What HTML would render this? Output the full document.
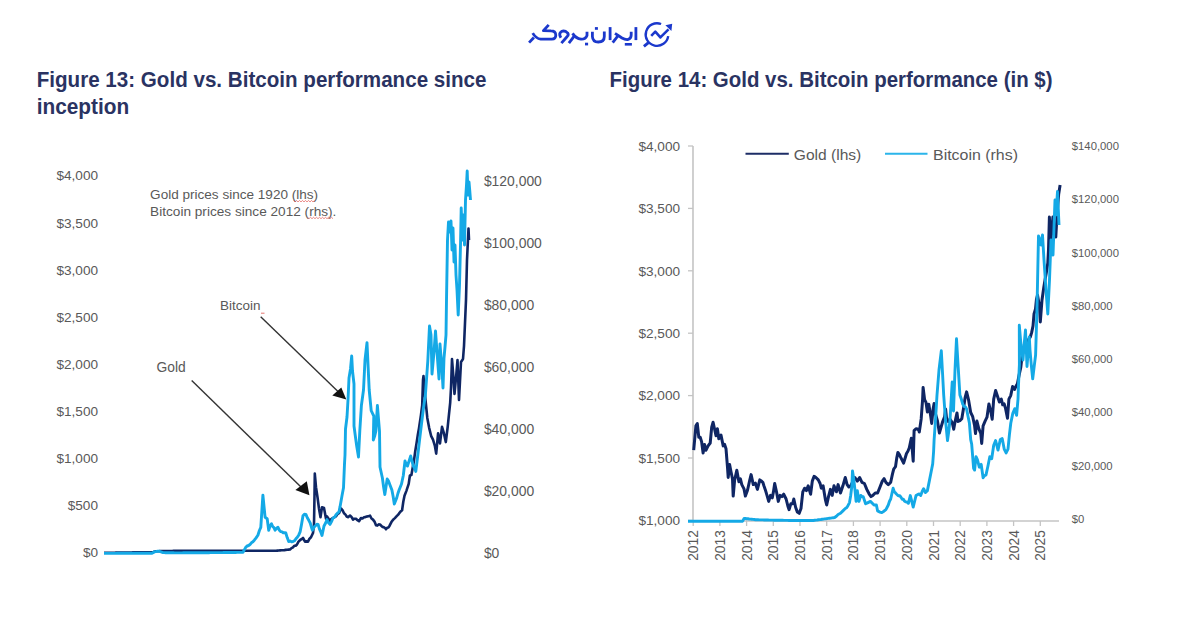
<!DOCTYPE html>
<html><head><meta charset="utf-8"><style>
html,body{margin:0;padding:0;background:#fff;}
body{width:1200px;height:628px;overflow:hidden;}
svg{display:block;font-family:"Liberation Sans",sans-serif;}
</style></head><body>
<svg width="1200" height="628" viewBox="0 0 1200 628">
<rect width="1200" height="628" fill="#fff"/>
<text x="36.7" y="87" font-size="21.2" fill="#2a3362" font-weight="700" text-anchor="start" textLength="449.8" lengthAdjust="spacingAndGlyphs">Figure 13: Gold vs. Bitcoin performance since</text>
<text x="36.7" y="113.5" font-size="21.2" fill="#2a3362" font-weight="700" text-anchor="start" textLength="92.5" lengthAdjust="spacingAndGlyphs">inception</text>
<text x="609.5" y="87" font-size="21.2" fill="#2a3362" font-weight="700" text-anchor="start" textLength="443" lengthAdjust="spacingAndGlyphs">Figure 14: Gold vs. Bitcoin performance (in $)</text>
<text x="98" y="180.4" font-size="13.6" fill="#595959" font-weight="400" text-anchor="end">$4,000</text>
<text x="98" y="227.5" font-size="13.6" fill="#595959" font-weight="400" text-anchor="end">$3,500</text>
<text x="98" y="274.6" font-size="13.6" fill="#595959" font-weight="400" text-anchor="end">$3,000</text>
<text x="98" y="321.70000000000005" font-size="13.6" fill="#595959" font-weight="400" text-anchor="end">$2,500</text>
<text x="98" y="368.8" font-size="13.6" fill="#595959" font-weight="400" text-anchor="end">$2,000</text>
<text x="98" y="415.9" font-size="13.6" fill="#595959" font-weight="400" text-anchor="end">$1,500</text>
<text x="98" y="463.0" font-size="13.6" fill="#595959" font-weight="400" text-anchor="end">$1,000</text>
<text x="98" y="510.1" font-size="13.6" fill="#595959" font-weight="400" text-anchor="end">$500</text>
<text x="98" y="557.2" font-size="13.6" fill="#595959" font-weight="400" text-anchor="end">$0</text>
<text x="483.9" y="185.5" font-size="13.9" fill="#595959" font-weight="400" text-anchor="start">$120,000</text>
<text x="483.9" y="247.5" font-size="13.9" fill="#595959" font-weight="400" text-anchor="start">$100,000</text>
<text x="483.9" y="309.5" font-size="13.9" fill="#595959" font-weight="400" text-anchor="start">$80,000</text>
<text x="483.9" y="371.5" font-size="13.9" fill="#595959" font-weight="400" text-anchor="start">$60,000</text>
<text x="483.9" y="433.5" font-size="13.9" fill="#595959" font-weight="400" text-anchor="start">$40,000</text>
<text x="483.9" y="495.5" font-size="13.9" fill="#595959" font-weight="400" text-anchor="start">$20,000</text>
<text x="483.9" y="557.5" font-size="13.9" fill="#595959" font-weight="400" text-anchor="start">$0</text>
<text x="150.1" y="198.9" font-size="13.6" fill="#595959" font-weight="400" text-anchor="start" textLength="168" lengthAdjust="spacingAndGlyphs">Gold prices since 1920 (lhs)</text>
<text x="150.1" y="215.8" font-size="13.6" fill="#595959" font-weight="400" text-anchor="start" textLength="186.3" lengthAdjust="spacingAndGlyphs">Bitcoin prices since 2012 (rhs).</text>
<text x="219.9" y="309.9" font-size="13.6" fill="#595959" font-weight="400" text-anchor="start" textLength="40.5" lengthAdjust="spacingAndGlyphs">Bitcoin</text>
<text x="156.6" y="372.4" font-size="13.8" fill="#595959" font-weight="400" text-anchor="start" textLength="29.2" lengthAdjust="spacingAndGlyphs">Gold</text>
<polyline points="293.5,200.5 295.0,201.9 296.5,200.5 298.0,201.9 299.5,200.5 301.0,201.9 302.5,200.5 304.0,201.9 305.5,200.5 307.0,201.9 308.5,200.5 310.0,201.9 311.5,200.5 313.0,201.9 314.5,200.5" fill="none" stroke="#e0504a" stroke-width="0.9" opacity="0.75"/>
<polyline points="307.5,217.3 309.0,218.7 310.5,217.3 312.0,218.7 313.5,217.3 315.0,218.7 316.5,217.3 318.0,218.7 319.5,217.3 321.0,218.7 322.5,217.3 324.0,218.7 325.5,217.3 327.0,218.7 328.5,217.3 330.0,218.7 331.5,217.3 333.0,218.7" fill="none" stroke="#e0504a" stroke-width="0.9" opacity="0.75"/>
<line x1="261" y1="313.2" x2="264.5" y2="313.2" stroke="#e0504a" stroke-width="1" opacity="0.8"/>
<line x1="260.7" y1="316.8" x2="338" y2="391.5" stroke="#333" stroke-width="1.4"/>
<polygon points="346.3,399.4 332.3,395.4 341.3,387.5" fill="#111"/>
<line x1="191.7" y1="380.6" x2="301" y2="487" stroke="#333" stroke-width="1.4"/>
<polygon points="309.4,495.2 295.4,490.1 306.8,481.2" fill="#111"/>
<polyline points="104.0,552.8 105.2,552.8 106.4,552.8 107.6,552.8 108.8,552.7 110.0,552.7 111.2,552.7 112.4,552.7 113.6,552.7 114.8,552.7 116.0,552.6 117.2,552.6 118.4,552.6 119.6,552.6 120.8,552.6 122.0,552.6 123.2,552.6 124.4,552.5 125.6,552.5 126.8,552.5 128.0,552.5 129.2,552.5 130.4,552.5 131.6,552.5 132.8,552.4 134.0,552.4 135.2,552.4 136.4,552.4 137.6,552.4 138.8,552.4 140.0,552.4 141.2,552.3 142.4,552.3 143.6,552.3 144.8,552.3 146.0,552.3 147.2,552.3 148.4,552.2 149.6,552.2 150.8,552.2 152.0,552.2 153.3,551.9 154.7,551.5 156.0,551.2 157.2,551.2 158.5,551.2 159.8,551.1 161.0,551.1 162.2,551.1 163.5,551.1 164.8,551.1 166.0,551.0 167.2,551.0 168.5,551.0 169.8,551.0 171.0,551.0 172.2,551.0 173.5,550.9 174.8,550.9 176.0,550.9 177.2,550.9 178.4,550.9 179.6,550.9 180.8,550.9 182.0,550.9 183.2,550.9 184.4,550.9 185.6,550.9 186.8,550.9 188.0,550.9 189.3,550.9 190.5,550.9 191.7,550.9 192.9,550.9 194.1,550.9 195.3,550.9 196.5,550.9 197.7,550.9 198.9,550.9 200.1,550.9 201.3,550.8 202.5,550.8 203.7,550.8 204.9,550.8 206.1,550.8 207.3,550.8 208.5,550.8 209.7,550.8 210.9,550.8 212.1,550.8 213.3,550.8 214.6,550.8 215.8,550.8 217.0,550.8 218.2,550.8 219.4,550.8 220.6,550.8 221.8,550.8 223.0,550.8 224.2,550.8 225.4,550.8 226.6,550.8 227.8,550.8 229.0,550.8 230.2,550.8 231.4,550.8 232.6,550.8 233.8,550.8 235.0,550.8 236.2,550.8 237.4,550.8 238.7,550.8 239.9,550.8 241.1,550.8 242.3,550.8 243.5,550.8 244.7,550.8 245.9,550.8 247.1,550.8 248.3,550.8 249.5,550.8 250.7,550.8 251.9,550.7 253.1,550.7 254.3,550.7 255.5,550.7 256.7,550.7 257.9,550.7 259.1,550.7 260.3,550.7 261.5,550.7 262.7,550.7 264.0,550.7 265.2,550.7 266.4,550.7 267.6,550.7 268.8,550.7 270.0,550.7 271.2,550.7 272.4,550.7 273.6,550.7 274.8,550.7 276.0,550.7 277.4,550.6 278.8,550.5 280.2,550.4 281.6,550.3 283.0,550.2 284.4,550.1 285.8,549.9 287.2,549.8 288.6,549.6 290.0,549.5 291.5,548.1 293.0,547.4 294.3,545.8 295.7,545.7 297.0,544.5 298.5,541.6 300.0,540.2 301.5,539.2 303.0,538.0 305.0,541.6 306.5,541.4 308.0,541.6 309.5,538.7 311.0,537.3 313.0,533.0 314.0,524.4 314.5,495.8 314.8,473.6 316.0,487.2 317.5,497.2 319.0,508.7 320.5,517.3 322.0,507.2 324.0,508.0 326.0,518.7 327.0,516.4 328.5,518.8 330.0,521.2 331.5,518.8 333.0,518.0 334.5,517.1 336.0,516.4 337.5,514.0 339.0,513.2 341.0,508.5 342.5,510.1 344.0,513.2 345.3,514.4 346.7,516.5 348.0,517.2 350.0,515.6 351.5,516.9 353.0,519.6 354.5,518.7 356.0,518.8 357.5,520.2 359.0,521.2 361.0,518.0 362.5,518.4 364.0,517.2 365.3,517.1 366.7,516.5 368.0,516.4 370.0,515.6 371.5,518.5 373.0,519.6 374.5,521.6 376.0,525.2 377.3,525.6 378.7,524.4 380.0,524.5 382.4,526.9 383.6,527.1 384.8,527.8 386.0,529.3 387.2,527.8 388.4,527.5 389.6,525.7 391.4,522.1 393.1,519.7 394.9,518.1 396.7,516.2 398.2,514.7 399.7,512.6 400.9,511.2 402.1,510.2 403.3,501.8 404.5,495.8 406.3,491.1 408.7,483.9 409.9,475.5 411.4,475.0 412.6,468.2 413.9,461.2 415.2,451.5 416.5,443.4 417.8,435.0 419.0,428.1 420.9,415.4 422.2,405.2 423.0,380.0 423.5,376.0 424.5,390.0 425.5,400.0 427.3,417.9 429.2,428.1 431.1,435.8 433.0,439.6 434.9,446.0 436.2,453.6 438.1,433.2 440.0,443.4 442.0,426.8 443.9,433.2 445.8,442.1 447.7,426.8 449.0,414.1 450.2,402.6 451.0,388.0 452.0,359.0 453.5,378.0 454.5,394.0 456.0,378.0 457.5,360.0 459.0,400.0 460.0,381.0 461.0,362.0 463.0,359.0 464.0,346.0 466.0,300.0 467.0,260.0 468.5,228.5 469.0,240.0" fill="none" stroke="#0f2664" stroke-width="2.6" stroke-linejoin="round"/>
<polyline points="104.0,553.4 105.2,553.4 106.4,553.4 107.6,553.4 108.8,553.4 110.0,553.4 111.2,553.4 112.4,553.4 113.6,553.4 114.8,553.4 116.0,553.4 117.2,553.3 118.4,553.3 119.6,553.3 120.8,553.3 122.0,553.3 123.2,553.3 124.4,553.3 125.6,553.3 126.8,553.3 128.0,553.3 129.2,553.3 130.4,553.3 131.6,553.3 132.8,553.3 134.0,553.3 135.2,553.3 136.4,553.3 137.6,553.3 138.8,553.3 140.0,553.2 141.2,553.2 142.4,553.2 143.6,553.2 144.8,553.2 146.0,553.2 147.2,553.2 148.4,553.2 149.6,553.2 150.8,553.2 152.0,553.2 153.5,552.4 155.0,551.6 156.3,551.5 157.7,551.3 159.0,551.2 160.3,551.7 161.7,552.1 163.0,552.6 164.3,552.6 165.6,552.7 166.9,552.7 168.2,552.7 169.5,552.8 170.8,552.8 172.1,552.8 173.4,552.8 174.7,552.9 176.0,552.9 177.2,552.9 178.4,552.9 179.7,552.9 180.9,552.9 182.1,552.9 183.3,552.8 184.5,552.8 185.7,552.8 187.0,552.8 188.2,552.8 189.4,552.8 190.6,552.8 191.8,552.8 193.1,552.8 194.3,552.8 195.5,552.8 196.7,552.7 197.9,552.7 199.1,552.7 200.4,552.7 201.6,552.7 202.8,552.7 204.0,552.7 205.2,552.7 206.5,552.7 207.7,552.7 208.9,552.7 210.1,552.6 211.3,552.6 212.5,552.6 213.8,552.6 215.0,552.6 216.2,552.6 217.4,552.6 218.6,552.6 219.9,552.6 221.1,552.6 222.3,552.6 223.5,552.5 224.7,552.5 225.9,552.5 227.2,552.5 228.4,552.5 229.6,552.5 230.8,552.5 232.0,552.5 233.3,552.5 234.5,552.5 235.7,552.5 236.9,552.4 238.1,552.4 239.3,552.4 240.6,552.4 241.8,552.4 243.0,552.4 244.3,549.9 245.7,547.4 247.1,546.0 248.6,545.5 250.0,544.5 251.4,542.8 252.9,541.8 254.3,540.2 256.1,537.9 257.9,535.2 259.4,530.5 260.8,527.3 262.9,495.1 265.1,517.3 267.2,518.7 268.7,530.2 270.1,526.1 271.5,523.7 272.7,526.5 273.9,527.6 275.1,530.2 276.6,528.3 278.0,527.3 279.4,530.3 280.8,531.6 282.1,531.9 283.3,532.9 284.6,532.6 285.8,533.0 287.2,537.6 288.7,541.6 290.1,541.0 291.6,541.8 293.0,541.6 294.4,540.8 295.9,538.8 297.3,537.3 298.8,534.9 300.2,531.6 301.6,524.0 303.0,515.8 304.4,514.3 305.9,514.4 307.3,517.7 308.8,520.3 310.2,523.0 312.3,530.2 314.5,526.6 315.7,525.5 316.9,524.3 318.1,524.4 319.4,528.8 320.7,531.8 322.0,535.5 324.0,526.0 325.5,523.2 327.0,519.6 328.5,522.7 330.0,524.4 331.5,521.6 333.0,518.0 334.5,517.2 336.0,514.8 337.5,513.1 339.0,511.7 340.0,506.9 342.0,495.7 343.5,487.8 344.5,463.9 345.0,455.0 345.5,429.0 347.0,417.0 348.0,400.0 349.0,378.0 350.5,369.0 351.7,356.0 352.5,371.0 354.0,384.0 354.0,426.0 355.4,436.5 356.7,446.0 358.5,457.0 359.8,431.0 361.4,405.5 363.5,390.0 365.0,360.0 367.0,342.6 369.2,390.0 371.2,410.7 372.5,413.3 373.8,416.0 373.3,440.0 374.6,436.3 375.9,431.0 377.4,405.5 379.5,431.0 380.0,467.0 382.4,478.0 383.6,487.0 384.8,494.6 387.2,479.0 388.4,480.8 389.6,484.0 391.9,490.0 393.1,496.3 394.3,504.0 396.7,498.0 397.9,493.5 399.1,490.0 401.5,484.0 403.3,475.5 405.0,461.0 406.2,464.3 407.5,466.0 409.1,460.9 410.7,456.0 412.0,461.2 413.3,466.0 414.6,468.3 415.8,471.4 417.7,456.0 419.6,439.6 421.6,423.0 423.5,407.7 425.4,395.0 426.6,378.0 427.8,361.0 429.5,326.0 431.0,335.0 432.0,374.0 434.0,352.0 435.5,331.0 437.0,352.0 439.0,379.0 440.0,344.0 442.0,370.0 443.0,388.0 444.0,358.0 445.0,347.0 446.0,335.0 446.5,300.0 447.5,240.0 448.5,222.0 450.0,232.0 451.0,221.0 452.0,250.0 453.0,228.0 454.0,262.0 455.0,245.0 456.0,275.0 457.0,290.0 458.2,315.0 459.5,285.0 460.5,245.0 461.2,208.0 462.5,240.0 463.5,215.0 464.5,245.0 465.5,200.0 466.5,185.0 467.2,171.0 468.0,195.0 469.0,182.0 469.7,190.0 470.5,200.0" fill="none" stroke="#14a9e6" stroke-width="2.9" stroke-linejoin="round"/>
<line x1="693" y1="146" x2="693" y2="521" stroke="#c4c4c4" stroke-width="1.6"/>
<line x1="693" y1="521" x2="1059" y2="521" stroke="#c4c4c4" stroke-width="1.6"/>
<line x1="688" y1="146.0" x2="693" y2="146.0" stroke="#c4c4c4" stroke-width="1.3"/>
<line x1="688" y1="208.4" x2="693" y2="208.4" stroke="#c4c4c4" stroke-width="1.3"/>
<line x1="688" y1="270.8" x2="693" y2="270.8" stroke="#c4c4c4" stroke-width="1.3"/>
<line x1="688" y1="333.2" x2="693" y2="333.2" stroke="#c4c4c4" stroke-width="1.3"/>
<line x1="688" y1="395.6" x2="693" y2="395.6" stroke="#c4c4c4" stroke-width="1.3"/>
<line x1="688" y1="458.0" x2="693" y2="458.0" stroke="#c4c4c4" stroke-width="1.3"/>
<line x1="688" y1="520.4" x2="693" y2="520.4" stroke="#c4c4c4" stroke-width="1.3"/>
<line x1="693.2" y1="521" x2="693.2" y2="526" stroke="#c4c4c4" stroke-width="1.3"/>
<line x1="719.9" y1="521" x2="719.9" y2="526" stroke="#c4c4c4" stroke-width="1.3"/>
<line x1="746.6" y1="521" x2="746.6" y2="526" stroke="#c4c4c4" stroke-width="1.3"/>
<line x1="773.3" y1="521" x2="773.3" y2="526" stroke="#c4c4c4" stroke-width="1.3"/>
<line x1="800.0" y1="521" x2="800.0" y2="526" stroke="#c4c4c4" stroke-width="1.3"/>
<line x1="826.7" y1="521" x2="826.7" y2="526" stroke="#c4c4c4" stroke-width="1.3"/>
<line x1="853.4" y1="521" x2="853.4" y2="526" stroke="#c4c4c4" stroke-width="1.3"/>
<line x1="880.1" y1="521" x2="880.1" y2="526" stroke="#c4c4c4" stroke-width="1.3"/>
<line x1="906.8" y1="521" x2="906.8" y2="526" stroke="#c4c4c4" stroke-width="1.3"/>
<line x1="933.5" y1="521" x2="933.5" y2="526" stroke="#c4c4c4" stroke-width="1.3"/>
<line x1="960.2" y1="521" x2="960.2" y2="526" stroke="#c4c4c4" stroke-width="1.3"/>
<line x1="986.9" y1="521" x2="986.9" y2="526" stroke="#c4c4c4" stroke-width="1.3"/>
<line x1="1013.6" y1="521" x2="1013.6" y2="526" stroke="#c4c4c4" stroke-width="1.3"/>
<line x1="1040.3" y1="521" x2="1040.3" y2="526" stroke="#c4c4c4" stroke-width="1.3"/>
<text x="680" y="150.7" font-size="13.6" fill="#595959" font-weight="400" text-anchor="end">$4,000</text>
<text x="680" y="213.1" font-size="13.6" fill="#595959" font-weight="400" text-anchor="end">$3,500</text>
<text x="680" y="275.5" font-size="13.6" fill="#595959" font-weight="400" text-anchor="end">$3,000</text>
<text x="680" y="337.9" font-size="13.6" fill="#595959" font-weight="400" text-anchor="end">$2,500</text>
<text x="680" y="400.29999999999995" font-size="13.6" fill="#595959" font-weight="400" text-anchor="end">$2,000</text>
<text x="680" y="462.7" font-size="13.6" fill="#595959" font-weight="400" text-anchor="end">$1,500</text>
<text x="680" y="525.0999999999999" font-size="13.6" fill="#595959" font-weight="400" text-anchor="end">$1,000</text>
<text x="1071.8" y="149.9" font-size="11.3" fill="#595959" font-weight="400" text-anchor="start">$140,000</text>
<text x="1071.8" y="203.2" font-size="11.3" fill="#595959" font-weight="400" text-anchor="start">$120,000</text>
<text x="1071.8" y="256.5" font-size="11.3" fill="#595959" font-weight="400" text-anchor="start">$100,000</text>
<text x="1071.8" y="309.79999999999995" font-size="11.3" fill="#595959" font-weight="400" text-anchor="start">$80,000</text>
<text x="1071.8" y="363.1" font-size="11.3" fill="#595959" font-weight="400" text-anchor="start">$60,000</text>
<text x="1071.8" y="416.4" font-size="11.3" fill="#595959" font-weight="400" text-anchor="start">$40,000</text>
<text x="1071.8" y="469.69999999999993" font-size="11.3" fill="#595959" font-weight="400" text-anchor="start">$20,000</text>
<text x="1071.8" y="523.0" font-size="11.3" fill="#595959" font-weight="400" text-anchor="start">$0</text>
<text x="0" y="0" font-size="13.8" fill="#595959" text-anchor="middle" transform="translate(698.2,545.5) rotate(-90)">2012</text>
<text x="0" y="0" font-size="13.8" fill="#595959" text-anchor="middle" transform="translate(724.9,545.5) rotate(-90)">2013</text>
<text x="0" y="0" font-size="13.8" fill="#595959" text-anchor="middle" transform="translate(751.6,545.5) rotate(-90)">2014</text>
<text x="0" y="0" font-size="13.8" fill="#595959" text-anchor="middle" transform="translate(778.3,545.5) rotate(-90)">2015</text>
<text x="0" y="0" font-size="13.8" fill="#595959" text-anchor="middle" transform="translate(805.0,545.5) rotate(-90)">2016</text>
<text x="0" y="0" font-size="13.8" fill="#595959" text-anchor="middle" transform="translate(831.7,545.5) rotate(-90)">2017</text>
<text x="0" y="0" font-size="13.8" fill="#595959" text-anchor="middle" transform="translate(858.4,545.5) rotate(-90)">2018</text>
<text x="0" y="0" font-size="13.8" fill="#595959" text-anchor="middle" transform="translate(885.1,545.5) rotate(-90)">2019</text>
<text x="0" y="0" font-size="13.8" fill="#595959" text-anchor="middle" transform="translate(911.8,545.5) rotate(-90)">2020</text>
<text x="0" y="0" font-size="13.8" fill="#595959" text-anchor="middle" transform="translate(938.5,545.5) rotate(-90)">2021</text>
<text x="0" y="0" font-size="13.8" fill="#595959" text-anchor="middle" transform="translate(965.2,545.5) rotate(-90)">2022</text>
<text x="0" y="0" font-size="13.8" fill="#595959" text-anchor="middle" transform="translate(991.9,545.5) rotate(-90)">2023</text>
<text x="0" y="0" font-size="13.8" fill="#595959" text-anchor="middle" transform="translate(1018.6,545.5) rotate(-90)">2024</text>
<text x="0" y="0" font-size="13.8" fill="#595959" text-anchor="middle" transform="translate(1045.3,545.5) rotate(-90)">2025</text>
<line x1="745.5" y1="153.8" x2="788.8" y2="153.8" stroke="#1d2d66" stroke-width="2.0"/>
<text x="793.8" y="160" font-size="15.5" fill="#595959" font-weight="400" text-anchor="start" textLength="67.5" lengthAdjust="spacingAndGlyphs">Gold (lhs)</text>
<line x1="885" y1="153.8" x2="927.5" y2="153.8" stroke="#2bb5ea" stroke-width="2.0"/>
<text x="933" y="160" font-size="15.5" fill="#595959" font-weight="400" text-anchor="start" textLength="85" lengthAdjust="spacingAndGlyphs">Bitcoin (rhs)</text>
<polyline points="693.7,450.2 695.9,425.8 697.3,423.6 698.8,437.3 700.2,437.3 701.6,441.6 703.1,453.0 704.5,444.4 705.9,450.2 708.1,445.9 710.2,443.0 711.7,427.2 713.1,422.2 714.5,428.7 716.0,435.8 717.4,428.7 718.8,438.7 721.0,435.1 723.2,445.9 724.6,444.4 726.0,448.7 727.5,467.4 728.2,477.4 729.6,464.5 731.0,471.7 732.5,478.9 733.2,496.1 734.6,480.3 736.8,470.3 738.9,481.7 740.4,478.9 741.8,484.6 744.0,488.9 745.4,496.1 747.5,490.3 749.7,480.3 751.1,474.6 753.3,484.6 755.4,483.2 757.4,489.4 759.8,479.9 761.3,481.0 762.8,482.3 764.0,486.0 765.2,489.4 767.0,495.4 768.7,501.4 770.5,495.4 772.3,497.8 773.5,491.4 774.7,483.5 776.5,491.8 778.3,501.4 780.1,495.4 781.9,496.6 783.7,494.2 786.1,499.0 787.9,506.2 789.1,509.7 790.8,503.8 792.6,503.8 793.8,499.0 795.6,507.3 797.4,512.1 799.2,513.3 801.0,508.5 802.8,491.8 804.6,488.2 806.4,490.6 808.2,485.8 810.6,494.2 812.3,481.1 814.1,476.3 815.9,477.5 818.3,479.9 820.1,483.5 821.3,488.2 823.1,485.8 825.5,500.2 826.7,505.0 828.5,496.6 830.4,489.4 832.2,495.4 834.0,485.8 836.4,491.8 838.1,484.6 840.5,493.0 842.9,485.8 845.3,477.5 847.1,484.6 848.9,487.0 850.7,485.8 853.1,481.1 854.9,477.5 857.3,481.1 859.6,477.5 862.0,482.3 864.4,483.5 866.8,489.4 868.0,491.7 869.2,494.2 871.0,496.6 872.8,495.4 874.0,494.2 875.2,493.0 877.6,493.0 880.0,487.0 882.3,481.1 884.1,478.7 885.9,482.3 888.3,484.6 889.5,483.6 890.7,482.3 892.5,473.9 893.7,469.1 895.5,466.7 896.7,458.4 897.9,452.4 899.3,454.3 900.7,457.4 902.2,460.3 903.6,463.1 905.0,458.5 906.5,453.5 907.9,451.2 909.3,447.8 911.3,438.2 913.2,461.2 914.1,430.6 916.0,428.7 917.5,428.9 918.9,430.6 919.3,432.0 921.2,418.7 922.6,399.6 923.1,387.5 924.6,399.6 926.0,402.4 927.4,412.0 928.8,404.3 930.8,416.7 931.7,423.4 933.1,409.1 934.1,403.4 935.5,413.9 937.4,420.6 939.4,433.0 940.8,428.2 942.7,421.5 944.6,416.7 945.6,409.1 946.5,417.7 948.4,421.5 950.3,419.6 952.2,422.5 953.7,429.2 955.1,421.5 957.0,412.9 958.0,421.5 959.9,420.6 961.8,418.7 963.7,407.2 965.1,397.6 966.6,391.9 968.5,399.6 970.7,412.5 972.6,416.3 974.6,425.8 975.5,433.5 976.9,421.1 978.8,428.7 980.8,433.5 981.7,443.4 983.1,425.8 985.1,421.1 987.0,417.2 988.9,403.9 990.8,411.5 992.2,419.2 993.7,399.1 995.6,390.5 997.5,396.2 999.4,402.0 1001.3,399.1 1002.7,404.8 1004.2,403.9 1005.6,408.7 1007.5,418.2 1008.9,399.1 1010.8,395.3 1012.6,386.5 1014.6,389.4 1016.0,386.2 1017.4,383.7 1019.3,374.1 1020.8,367.4 1022.2,355.0 1023.5,350.9 1024.7,348.9 1026.0,345.0 1027.4,342.7 1028.9,338.8 1030.3,337.0 1031.7,332.4 1033.0,326.0 1034.0,314.0 1035.5,309.0 1036.5,299.0 1037.5,295.0 1039.4,306.0 1040.3,322.0 1042.0,300.0 1043.7,288.0 1045.0,280.0 1046.4,272.3 1047.8,263.0 1048.5,250.0 1049.4,217.0 1050.5,245.0 1051.7,231.3 1052.9,217.0 1054.5,235.0 1055.8,237.0 1057.0,215.0 1058.7,194.0 1060.1,185.0" fill="none" stroke="#0f2664" stroke-width="3.0" stroke-linejoin="round"/>
<polyline points="688.0,521.2 689.2,521.2 690.4,521.2 691.6,521.2 692.9,521.2 694.1,521.2 695.3,521.2 696.5,521.2 697.7,521.2 698.9,521.2 700.2,521.2 701.4,521.2 702.6,521.2 703.8,521.2 705.0,521.2 706.2,521.2 707.4,521.2 708.7,521.2 709.9,521.2 711.1,521.2 712.3,521.2 713.5,521.2 714.7,521.2 716.0,521.2 717.2,521.2 718.4,521.2 719.6,521.2 720.8,521.2 722.0,521.2 723.3,521.2 724.5,521.2 725.7,521.2 726.9,521.2 728.1,521.2 729.3,521.2 730.5,521.2 731.8,521.2 733.0,521.2 734.2,521.2 735.4,521.2 736.6,521.2 737.8,521.2 739.1,521.2 740.3,521.2 741.5,521.2 742.7,521.2 744.1,518.4 745.4,518.5 746.6,518.7 747.9,518.8 749.2,519.0 750.5,519.1 751.7,519.2 753.0,519.4 754.3,519.5 755.5,519.7 756.8,519.8 758.0,519.8 759.3,519.9 760.5,519.9 761.7,519.9 762.9,519.9 764.2,520.0 765.4,520.0 766.6,520.0 767.9,520.0 769.1,520.1 770.3,520.1 771.6,520.1 772.8,520.1 774.0,520.2 775.2,520.2 776.5,520.2 777.7,520.2 778.9,520.3 780.2,520.3 781.4,520.3 782.6,520.3 783.9,520.4 785.1,520.4 786.3,520.4 787.5,520.4 788.8,520.5 790.0,520.5 791.2,520.5 792.5,520.5 793.7,520.5 794.9,520.5 796.2,520.5 797.4,520.5 798.7,520.5 799.9,520.5 801.1,520.5 802.4,520.5 803.6,520.5 804.8,520.5 806.1,520.5 807.3,520.5 808.6,520.5 809.8,520.5 811.0,520.5 812.3,520.5 813.5,520.5 814.7,520.3 816.0,520.1 817.2,520.0 818.5,519.8 819.7,519.6 820.9,519.5 822.2,519.3 823.4,519.1 824.6,518.9 825.9,518.8 827.1,518.6 828.3,518.4 829.6,518.2 830.8,518.1 832.1,517.9 833.3,517.7 834.6,517.5 836.4,516.2 838.1,514.5 840.5,513.3 842.9,510.9 845.3,508.5 846.5,507.8 847.7,506.2 849.5,502.6 850.7,495.4 851.9,485.8 852.5,470.9 853.7,478.7 854.9,489.4 856.1,501.4 857.3,490.6 859.0,501.4 860.8,495.4 862.0,496.5 863.2,496.6 865.6,503.8 868.0,502.6 870.4,501.4 872.8,503.8 874.0,505.0 875.2,505.0 876.4,505.0 877.6,510.9 880.0,512.1 881.8,512.6 883.5,511.5 885.9,509.7 888.3,505.0 889.5,501.2 890.7,499.0 893.1,488.2 894.3,491.8 895.5,492.9 896.7,494.2 898.2,495.7 899.8,495.6 901.0,497.3 902.2,499.2 903.4,499.2 904.6,501.3 905.9,501.9 907.1,502.2 908.4,503.3 910.3,495.6 911.8,501.4 913.2,507.1 914.6,501.5 916.0,495.6 917.9,494.4 919.3,494.0 920.7,495.4 922.2,491.5 923.6,488.7 925.5,492.5 927.4,490.6 929.3,481.1 931.2,471.5 932.7,463.9 933.6,451.5 934.1,440.0 935.5,420.0 937.0,395.0 939.0,370.0 941.3,350.8 942.5,372.5 943.7,395.0 945.5,420.0 947.5,440.6 948.8,431.0 950.0,420.0 952.2,382.0 953.5,411.0 955.0,370.0 956.5,338.8 958.2,367.4 959.9,395.0 961.3,399.0 962.8,404.3 964.1,406.4 965.3,406.8 966.6,409.0 968.0,416.2 969.4,423.0 970.7,439.6 971.7,444.3 973.6,468.2 974.6,470.1 976.0,456.7 977.4,459.6 979.3,467.2 981.2,464.4 983.1,477.8 984.5,475.7 986.0,474.9 987.9,466.3 989.8,456.7 991.7,458.7 993.7,445.3 995.6,440.5 998.0,450.1 1000.3,439.6 1002.2,438.6 1004.2,449.1 1006.1,452.9 1008.0,449.1 1009.4,434.8 1010.8,423.0 1012.8,413.4 1014.7,408.7 1016.6,415.3 1018.0,399.1 1018.5,384.8 1019.4,364.6 1019.3,325.3 1021.0,345.0 1023.0,360.0 1024.2,344.1 1025.5,330.0 1027.0,366.5 1029.3,337.0 1030.0,350.0 1031.3,365.1 1032.7,378.9 1034.2,366.4 1035.6,355.0 1037.0,308.0 1038.5,236.0 1039.8,240.0 1041.0,245.0 1042.5,235.0 1044.0,260.0 1046.0,290.0 1047.8,314.0 1049.5,280.0 1051.0,240.0 1053.0,255.0 1055.0,200.0 1056.0,215.0 1057.5,191.5 1059.0,225.0" fill="none" stroke="#14a9e6" stroke-width="2.9" stroke-linejoin="round"/>
<g fill="none" stroke="#1b38cc" stroke-width="2.8" stroke-linecap="butt" stroke-linejoin="round">
<path d="M529.1,42.6 L533.9,37.5"/>
<path d="M532.7,33.1 Q536,38.6 540.7,39.2 L551.8,39.2 Q555.9,39 555.8,35 Q555.5,30.9 551,30.9 L543.4,30.7 L548.7,24.9"/>
<path d="M560.9,37.8 Q558.3,33.5 561.4,31.6 Q564.5,30 567.6,32.9 Q569,35 567.2,36.5 L561.4,43.2"/>
<path d="M568.9,43.2 L574.2,36.2"/>
<path d="M572.5,33.4 Q576,38.5 581,39.2 Q585.5,39.5 587,35.5 L587,31.8"/>
<path d="M592.4,31.8 L592.4,36.5 Q592.6,42 598.3,42 Q604.3,42 604.3,36.5 L604.3,31.4"/>
<path d="M610.1,27.1 L610.1,40.1"/>
<path d="M612.7,42.7 L618.5,35.2"/>
<path d="M615,33.4 L622,38 Q625,39.8 628,39.5 Q631.2,38.5 631.2,35 L631.2,31.8"/>
<path d="M635.9,27.1 L635.9,40.1"/>
<path d="M661.1,24 A11.3,11.3 0 1 0 668.2,36.1" stroke-width="2.4"/>
<path d="M643.9,46.3 L648.8,42.3" stroke-width="2.9"/>
<path d="M651.2,35.8 L655.3,31.6 L660.4,37.4 L668.5,29.3" stroke-width="2.6"/>
</g>
<g fill="#1b38cc">
<rect x="585" y="42.7" width="3.1" height="2.7"/>
<rect x="594.9" y="27.1" width="3" height="2.7"/>
<rect x="624.8" y="43" width="7.1" height="2.6"/>
<polygon points="672.2,23.8 665.4,25.2 671.4,31"/>
</g>
</svg>
</body></html>
